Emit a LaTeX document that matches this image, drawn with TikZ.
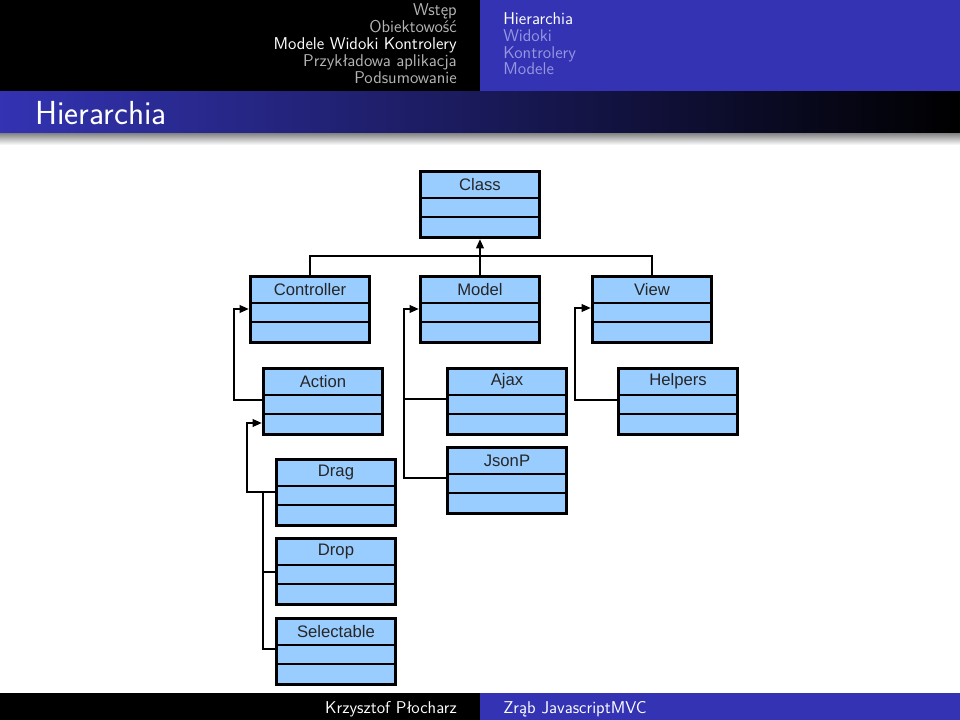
\documentclass[tikz,border=0pt]{standalone}
\usepackage{fontspec}
\newfontfamily\boxfont{Liberation Sans}
\usetikzlibrary{calc,arrows.meta}
\definecolor{struct}{RGB}{51,51,179}
\definecolor{boxblue}{RGB}{153,204,255}
\definecolor{navgray}{RGB}{180,180,180}
\definecolor{navlav}{RGB}{150,150,225}
\newcommand{\umlbox}[4]{%
  \node[umlbox] (#1) at (#2,#3) {};
  \draw[divider] ($(#1.north west)+(0,28)$) -- ($(#1.north east)+(0,28)$);
  \draw[divider] ($(#1.north west)+(0,47)$) -- ($(#1.north east)+(0,47)$);
  \node[umllabel] (#1-t) at ($(#1.north)+(0,14.5)$) {#4};
}
\begin{document}
\begin{tikzpicture}[x=0.75pt,y=-0.75pt,
  umlbox/.style={draw=black, line width=2.2pt, fill=boxblue, minimum width=89.25pt,
    minimum height=49.5pt, inner sep=0pt, anchor=north west},
  divider/.style={draw=black, line width=1.8pt},
  umllabel/.style={inner sep=0pt, text=black!85, font=\boxfont\fontsize{12.5}{14}\selectfont},
  conn/.style={draw=black, line width=1.8pt},
  thinconn/.style={draw=black, line width=1.2pt},
  arr/.style={-{Triangle[length=7pt,width=5.5pt]}},
  navtext/.style={inner sep=0pt, font=\sffamily\fontsize{12.8}{15}\selectfont},
]
\useasboundingbox (0,0) rectangle (960,720);
% header and frame title
\fill[black] (0,0) rectangle (480,92);
\fill[struct] (480,0) rectangle (960,92);
\shade[left color=struct, right color=black] (0,92) rectangle (960,134);
\shade[top color=black!45, bottom color=white] (0,134) rectangle (960,145);
% footer
\fill[black] (0,693) rectangle (480,720);
\fill[struct] (480,693) rectangle (960,720);

\node[navtext, anchor=base east, text=navgray] (s1) at (457,15.5) {Wstęp};
\node[navtext, anchor=base east, text=navgray] (s2) at (457,32.5) {Obiektowość};
\node[navtext, anchor=base east, text=white] (s3) at (457,49.4) {Modele Widoki Kontrolery};
\node[navtext, anchor=base east, text=navgray] (s4) at (457,66.4) {Przykładowa aplikacja};
\node[navtext, anchor=base east, text=navgray] (s5) at (457,83.3) {Podsumowanie};

\node[navtext, anchor=base west, text=white] (r1) at (503,25) {Hierarchia};
\node[navtext, anchor=base west, text=navlav] (r2) at (503,41.7) {Widoki};
\node[navtext, anchor=base west, text=navlav] (r3) at (503,58.3) {Kontrolery};
\node[navtext, anchor=base west, text=navlav] (r4) at (503,75) {Modele};

\node[anchor=base west, inner sep=0pt, text=white, font=\sffamily\fontsize{25}{28}\selectfont] (title) at (35,124.5) {Hierarchia};

\node[navtext, anchor=base east, text=white] (fl) at (457,713) {Krzysztof Płocharz};
\node[navtext, anchor=base west, text=white] (fr) at (503,713) {Zrąb JavascriptMVC};

% boxes
\umlbox{cls}{419}{170}{Class}
\umlbox{ctrl}{249}{275}{Controller}
\umlbox{model}{419}{275}{Model}
\umlbox{view}{591}{275}{View}
\umlbox{act}{262}{367}{Action}
\umlbox{ajax}{446}{367}{Ajax}
\umlbox{help}{617}{367}{Helpers}
\umlbox{jsonp}{446}{446}{JsonP}
\umlbox{drag}{275}{458}{Drag}
\umlbox{drop}{275}{537}{Drop}
\umlbox{sel}{275}{617}{Selectable}

% connectors
\coordinate (bus) at (0,256);
\draw[conn] (ctrl.north) -- (ctrl.north |- bus) -- (view.north |- bus) -- (view.north);
\draw[conn,arr] (model.north) -- (cls.south);

\draw[conn,arr] ($(act.north west)+(0,33)$) -- ++(-28,0) |- ($(ctrl.north west)+(0,34)$);
\draw[conn,arr] ($(jsonp.north west)+(0,32)$) -- ++(-42,0) |- ($(model.north west)+(0,34)$);
\draw[conn] ($(ajax.north west)+(0,32)$) -- ++(-42,0);
\draw[conn,arr] ($(help.north west)+(0,33)$) -- ++(-42,0) |- ($(view.north west)+(0,33)$);
\draw[conn,arr] ($(drag.north west)+(0,34)$) -- ++(-28,0) |- ($(act.north west)+(0,56)$);
\coordinate (j) at ($(drag.north west)+(-12,34)$);
\draw[thinconn] (j) |- ($(sel.north west)+(0,32)$);
\draw[thinconn] ($(drop.north west)+(0,35)$) -- ++(-12,0);
\end{tikzpicture}
\end{document}
